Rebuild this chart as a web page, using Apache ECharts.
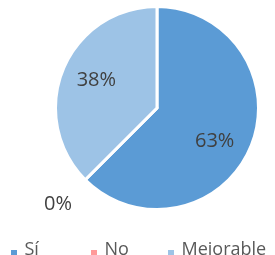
<!DOCTYPE html>
<html>
<head>
<meta charset="utf-8">
<script src="https://cdn.jsdelivr.net/npm/echarts@6/dist/echarts.min.js"></script>
<style>
  html, body { margin: 0; padding: 0; background: #fff; }
  #chart { width: 275px; height: 255px; }
</style>
</head>
<body>
<div id="chart"></div>
<script>
// datos de la encuesta
const categories = ['Sí', 'No', 'Mejorable'];
const counts = [5, 0, 3];

const colors = ['#5B9BD5', '#FF9999', '#9DC3E6'];
// desplazamiento de las etiquetas respecto a la posición "inside"
const labelOffsets = [[8, 13], [-61, 58], [-11, -7]];
const legendLeft = [11, 91, 168];

const total = counts.reduce((a, b) => a + b, 0);
const fontFamily = '"Open Sans", "Noto Sans", sans-serif';

const chart = echarts.init(document.getElementById('chart'));

chart.setOption({
  animation: false,
  color: colors,
  legend: categories.map((name, i) => ({
    data: [name],
    left: legendLeft[i],
    top: 241,
    padding: 0,
    itemWidth: 7,
    itemHeight: 12,
    // cuadrado pegado abajo, como en Excel
    icon: 'path://M0,0L6,0M0,6L6,6L6,12L0,12Z',
    itemStyle: { borderWidth: 0 },
    selectedMode: false,
    textStyle: {
      color: '#595959',
      fontSize: 18,
      fontFamily: fontFamily,
      padding: [0, 0, 0, 2]
    }
  })),
  series: [
    {
      type: 'pie',
      center: [157, 108],
      radius: 101.5,
      startAngle: 90,
      clockwise: true,
      avoidLabelOverlap: false,
      data: categories.map((name, i) => ({
        name: name,
        value: counts[i],
        label: { offset: labelOffsets[i] }
      })),
      itemStyle: {
        borderColor: '#fff',
        borderWidth: 3
      },
      label: {
        show: true,
        position: 'inside',
        color: '#404040',
        fontSize: 20,
        fontFamily: fontFamily,
        formatter: (p) => Math.round(p.value / total * 100) + '%'
      },
      labelLine: { show: false },
      emphasis: { disabled: true }
    }
  ]
});
</script>
</body>
</html>
